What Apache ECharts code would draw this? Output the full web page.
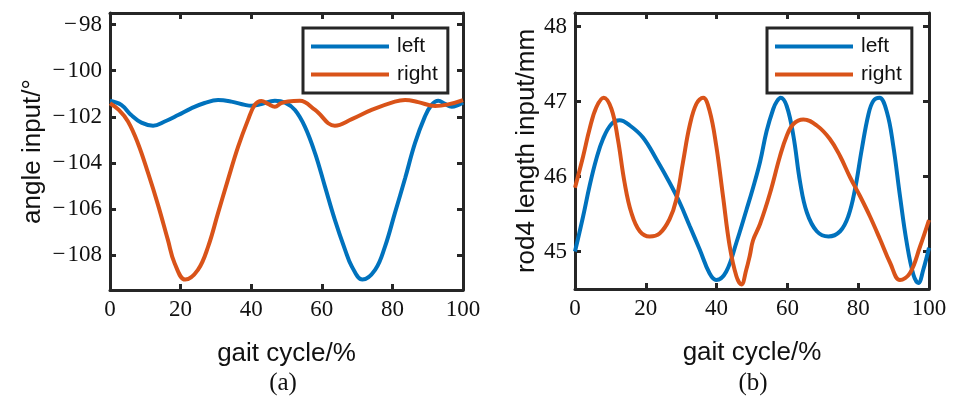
<!DOCTYPE html>
<html>
<head>
<meta charset="utf-8">
<script src="https://cdn.jsdelivr.net/npm/echarts@6/dist/echarts.min.js"></script>
<style>html,body{margin:0;padding:0;background:#fff;}#c{width:953px;height:399px;}</style>
</head>
<body>
<div id="c"></div>
<script>
// ---------- data ----------
const xTicks = [0, 20, 40, 60, 80, 100];
const angleTicks = [-108, -106, -104, -102, -100, -98];
const rodTicks = [45, 46, 47, 48];
const seriesNames = ['left', 'right'];
const subLabels = ['(a)', '(b)'];

const angleLeftT = [0,3.2,6,8.9,12.2,15.5,19.3,23,26.8,30.6,34.4,38.2,40,42.9,46.7,49.6,52.4,55.2,58.1,60.9,63.7,66.6,68.5,71.5,75.1,77.9,80.7,83.6,86.4,89.2,91.1,93,94.9,96.8,100];
const angleLeftV = [-101.3,-101.48,-101.92,-102.25,-102.38,-102.2,-101.92,-101.63,-101.4,-101.27,-101.34,-101.48,-101.52,-101.44,-101.3,-101.38,-101.7,-102.42,-103.58,-105.02,-106.46,-107.76,-108.48,-109.05,-108.63,-107.62,-106.17,-104.66,-103.14,-101.99,-101.48,-101.3,-101.44,-101.56,-101.38];

const angleRightT = [0,2.5,5.1,7.9,10.8,13.6,16.4,18.3,21.3,24.9,27.8,30.6,33.4,36.3,39.1,41,42.9,44.8,46.7,48.5,50.4,53.8,58.1,63.7,68.5,74.1,80.7,83.6,87.3,92.1,95.8,100];
const angleRightV = [-101.41,-101.7,-102.2,-103.14,-104.44,-105.81,-107.33,-108.34,-109.05,-108.63,-107.62,-106.17,-104.73,-103.29,-102.13,-101.48,-101.31,-101.44,-101.56,-101.4,-101.33,-101.3,-101.7,-102.38,-102.1,-101.7,-101.34,-101.27,-101.36,-101.53,-101.46,-101.27];

const rodLeftT = [0,2.3,4.1,6,7.9,10.3,12.6,15.5,19.2,23,26.7,29.6,32.4,35.2,38,39.9,42.7,45.6,48.4,50.3,52.3,54.1,56,57,58.1,59.8,61.7,63.6,65.5,68.3,71.6,74.9,77.2,79.1,81,82.9,84.3,86,88.1,89.9,91.8,93.7,95.6,97,98.4,100];
const rodLeftV = [45.0,45.47,45.87,46.23,46.5,46.7,46.75,46.68,46.52,46.23,45.92,45.65,45.34,45.03,44.71,44.62,44.73,45.12,45.55,45.85,46.2,46.6,46.9,47.0,47.05,46.94,46.54,45.92,45.52,45.27,45.2,45.27,45.47,45.83,46.36,46.83,47.01,47.05,46.86,46.41,45.74,45.12,44.69,44.58,44.76,45.05];

const rodRightT = [0,2.3,4.1,6,8.1,10.3,12.1,14,15.9,18.3,21.1,23.9,26.7,28.6,30.5,32.4,34.3,36.2,38,39.9,41.8,43.7,45.6,47,48.4,49.4,50.3,52.3,55.1,57.9,59.8,61.7,64.5,68.3,72,74.9,77.7,80.5,83.3,86.2,89,91.8,94.6,97.5,100];
const rodRightV = [45.85,46.27,46.63,46.92,47.05,46.9,46.5,45.92,45.52,45.27,45.2,45.24,45.43,45.69,46.19,46.68,46.97,47.05,46.88,46.41,45.74,45.07,44.67,44.56,44.76,44.95,45.15,45.37,45.78,46.27,46.54,46.7,46.76,46.68,46.5,46.27,45.99,45.74,45.47,45.16,44.85,44.62,44.71,45.07,45.42];

// ---------- styling ----------
const AX = '#262626';
const BLUE = '#0072BD', ORANGE = '#D95319';
const serif = 'Liberation Serif';
const sans = 'Liberation Sans';
const fmt = v => String(v).replace('-', '\u2212\u200a');
const zip = (t, v) => t.map((x, i) => [x, v[i]]);

function xAx(grid, pos) {
  return {
    type: 'value', gridIndex: grid, position: pos, min: 0, max: 100, interval: 20,
    axisLine: { show: true, onZero: false, lineStyle: { color: AX, width: 3 } },
    axisTick: { show: true, inside: true, length: 6, lineStyle: { color: AX, width: 3 } },
    axisLabel: { show: pos === 'bottom', margin: 8, fontFamily: serif, fontSize: 23, color: '#111' },
    splitLine: { show: false },
    name: pos === 'bottom' ? 'gait cycle/%' : '', nameLocation: 'middle', nameGap: 51,
    nameTextStyle: { fontFamily: sans, fontSize: 26, color: '#111' }
  };
}
function yAx(grid, pos, mn, mx, ticks, name, gap) {
  return {
    type: 'value', gridIndex: grid, position: pos, min: mn, max: mx,
    axisLine: { show: true, onZero: false, lineStyle: { color: AX, width: 3 } },
    axisTick: { show: true, inside: true, length: 6, customValues: ticks, lineStyle: { color: AX, width: 3 } },
    axisLabel: { show: pos === 'left', customValues: ticks, formatter: fmt, margin: 8, fontFamily: serif, fontSize: 23, color: '#111' },
    splitLine: { show: false },
    name: pos === 'left' ? name : '', nameLocation: 'middle', nameGap: gap, nameRotate: 90,
    nameTextStyle: { fontFamily: sans, fontSize: 26, color: '#111' }
  };
}
function leg(left) {
  return {
    left: left, top: 28, orient: 'vertical', icon: 'rect', itemWidth: 78, itemHeight: 4, itemGap: 7,
    padding: [8, 10, 8, 8], borderColor: AX, borderWidth: 3, backgroundColor: '#fff',
    selectedMode: false, data: seriesNames,
    textStyle: { fontFamily: sans, fontSize: 21, lineHeight: 21, color: '#111', padding: [0, 0, 0, 3] }
  };
}
function line(name, color, xi, yi, t, v) {
  return {
    type: 'line', name: name, xAxisIndex: xi, yAxisIndex: yi, data: zip(t, v),
    showSymbol: false, symbol: 'none', smooth: 0.4, clip: true,
    lineStyle: { color: color, width: 4 }, itemStyle: { color: color }, z: 3
  };
}

const chart = echarts.init(document.getElementById('c'), null, { renderer: 'canvas' });
chart.setOption({
  backgroundColor: '#fff',
  animation: false,
  grid: [
    { left: 110, top: 13, width: 353, height: 277 },
    { left: 575, top: 13, width: 354, height: 276 }
  ],
  xAxis: [xAx(0, 'bottom'), xAx(0, 'top'), xAx(1, 'bottom'), xAx(1, 'top')],
  yAxis: [
    yAx(0, 'left', -109.5, -97.5, angleTicks, 'angle input/°', 64),
    yAx(0, 'right', -109.5, -97.5, angleTicks, '', 0),
    yAx(1, 'left', 44.5, 48.18, rodTicks, 'rod4 length input/mm', 33),
    yAx(1, 'right', 44.5, 48.18, rodTicks, '', 0)
  ],
  legend: [leg(303), leg(767)],
  series: [
    line(seriesNames[0], BLUE, 0, 0, angleLeftT, angleLeftV),
    line(seriesNames[1], ORANGE, 0, 0, angleRightT, angleRightV),
    line(seriesNames[0], BLUE, 2, 2, rodLeftT, rodLeftV),
    line(seriesNames[1], ORANGE, 2, 2, rodRightT, rodRightV)
  ],
  graphic: [
    { type: 'text', x: 283, y: 383, style: { text: subLabels[0], font: '25px "Liberation Serif"', fill: '#111', align: 'center', verticalAlign: 'middle' } },
    { type: 'text', x: 753, y: 383, style: { text: subLabels[1], font: '25px "Liberation Serif"', fill: '#111', align: 'center', verticalAlign: 'middle' } }
  ]
});
</script>
</body>
</html>
